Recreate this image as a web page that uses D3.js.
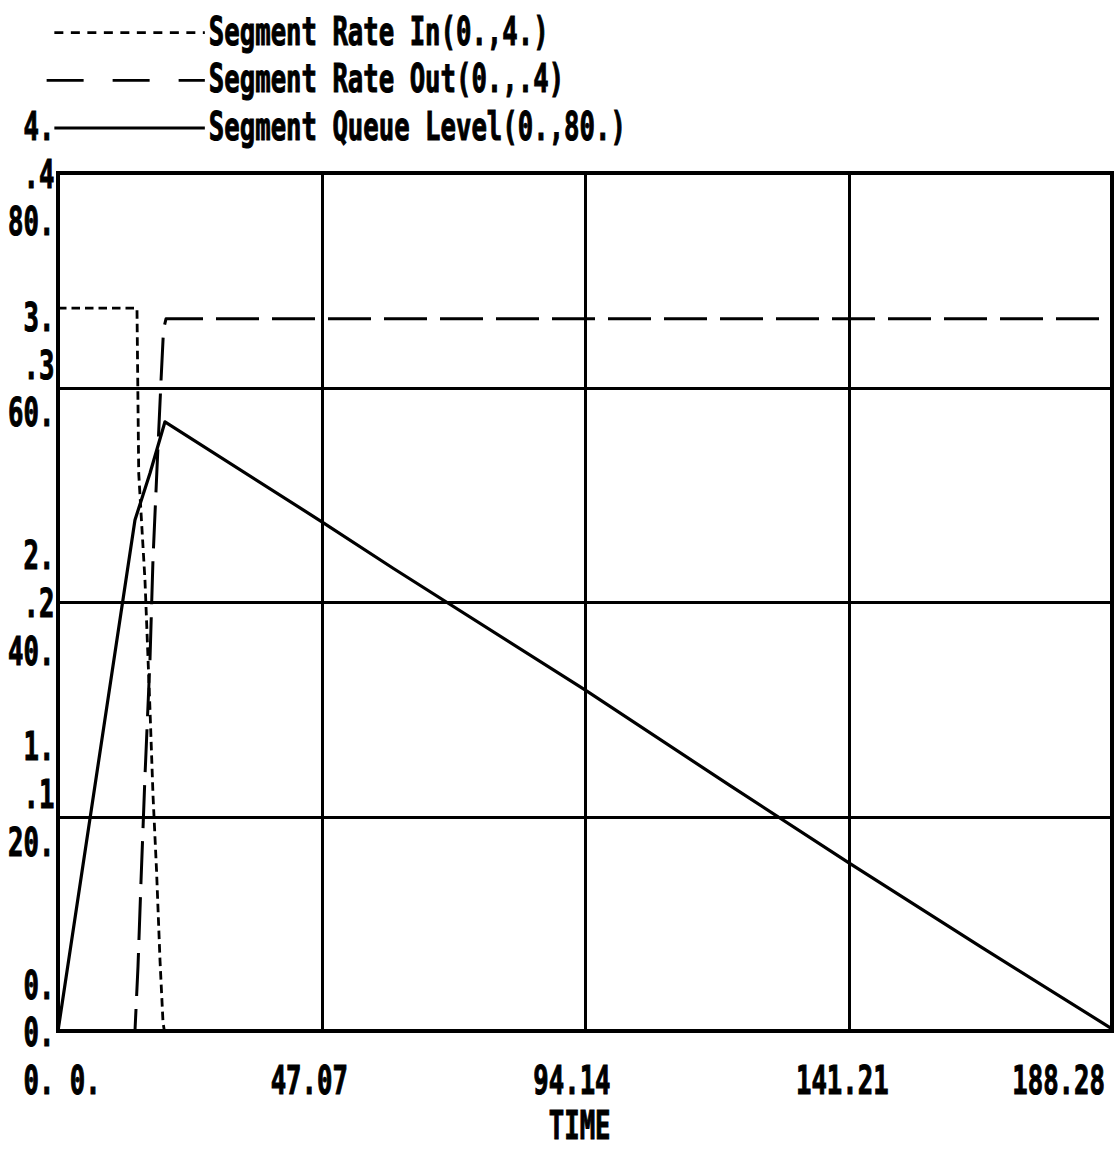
<!DOCTYPE html>
<html>
<head>
<meta charset="utf-8">
<script src="https://cdn.jsdelivr.net/npm/d3@7"></script>
<style>
  html, body { margin: 0; padding: 0; background: #fff; }
  svg { display: block; }
  text { font-family: "DejaVu Sans Mono", monospace; font-weight: bold; fill: #000; stroke: #000; stroke-width: 1.1; }
</style>
</head>
<body>
<svg id="chart" width="1117" height="1150"></svg>
<script>
// ---- Time axis ----
const timeTicks = [0, 47.07, 94.14, 141.21, 188.28];
const timeTickLabels = ["0.", "47.07", "94.14", "141.21", "188.28"];

// ---- Segment Rate In (scale 0 .. 4) ----
const rateInTime  = [0, 14.11, 14.42, 15.54, 16.43, 16.97, 17.6, 18.22, 18.76, 19.0, 188.28];
const rateInValue = [3.37, 3.37, 2.6, 2.1, 1.5, 1.1, 0.75, 0.33, 0.04, 0, 0];
const rateInTicks = [0, 1, 2, 3, 4];
const rateInTickLabels = ["0.", "1.", "2.", "3.", "4."];

// ---- Segment Rate Out (scale 0 .. 0.4) ----
const rateOutTime  = [0, 13.75, 14.29, 14.83, 15.54, 16.43, 16.97, 17.68, 18.4, 18.85, 19.29, 188.28];
const rateOutValue = [0, 0, 0.03, 0.07, 0.119, 0.173, 0.22, 0.262, 0.303, 0.327, 0.332, 0.332];
const rateOutTicks = [0, 0.1, 0.2, 0.3, 0.4];
const rateOutTickLabels = ["0.", ".1", ".2", ".3", ".4"];

// ---- Segment Queue Level (scale 0 .. 80) ----
const queueTime  = [0, 13.75, 16.43, 19.11, 47.07, 60, 94.14, 120, 141.21, 165, 188.28];
const queueValue = [0, 47.65, 52.0, 56.8, 47.5, 43.1, 31.8, 22.9, 15.7, 7.8, 0.2];
const queueTicks = [0, 20, 40, 60, 80];
const queueTickLabels = ["0.", "20.", "40.", "60.", "80."];

const legendLabels = ["Segment Rate In(0.,4.)", "Segment Rate Out(0.,.4)", "Segment Queue Level(0.,80.)"];
const axisTitle = "TIME";

// ---- layout ----
const svg = d3.select("#chart");
const plot = { left: 58, right: 1112, top: 173, bottom: 1031 };

// character-cell text grid used for all labels
const CW = 15.45, RH = 47.7, COL0 = 8, ROW0 = 127;
const FONT_SIZE = 39, GLYPH_ADV = 0.602 * FONT_SIZE, SX = CW / GLYPH_ADV, BASE = 13;
const colX = c => COL0 + c * CW;
const rowY = r => ROW0 + r * RH;

function gridText(str, col, row, maxBaseline) {
  const by = Math.min(rowY(row) + BASE, maxBaseline || Infinity);
  svg.append("text")
    .attr("transform", `translate(${colX(col)},${by}) scale(${SX},1)`)
    .attr("font-size", FONT_SIZE)
    .text(str);
}

const x = d3.scaleLinear().domain([0, 188.28]).range([plot.left, plot.right]);
const yIn = d3.scaleLinear().domain([0, 4]).range([plot.bottom, plot.top]);
const yOut = d3.scaleLinear().domain([0, 0.4]).range([plot.bottom, plot.top]);
const yQ = d3.scaleLinear().domain([0, 80]).range([plot.bottom, plot.top]);

const W = plot.right - plot.left, H = plot.bottom - plot.top;

// ---- grid lines ----
svg.append("g")
  .attr("transform", `translate(0,${plot.bottom})`)
  .call(d3.axisBottom(x).tickValues(timeTicks.slice(1, -1)).tickSize(-H).tickFormat(""))
  .call(g => g.select(".domain").remove())
  .call(g => g.selectAll("line").attr("stroke", "#000").attr("stroke-width", 3).attr("shape-rendering", "crispEdges"));

svg.append("g")
  .attr("transform", `translate(${plot.left},0)`)
  .call(d3.axisLeft(yQ).tickValues(queueTicks.slice(1, -1)).tickSize(-W).tickFormat(""))
  .call(g => g.select(".domain").remove())
  .call(g => g.selectAll("line").attr("stroke", "#000").attr("stroke-width", 3).attr("shape-rendering", "crispEdges"));

// ---- frame ----
svg.append("rect")
  .attr("x", plot.left).attr("y", plot.top)
  .attr("width", W).attr("height", H)
  .attr("fill", "none").attr("stroke", "#000").attr("stroke-width", 3.5)
  .attr("shape-rendering", "crispEdges");

// ---- series ----
const dotted = "8.5,5", dashed = "43,13";

function drawSeries(ts, vs, yScale, dash, width) {
  const pts = ts.map((t, i) => [t, vs[i]]);
  svg.append("path")
    .datum(pts)
    .attr("fill", "none")
    .attr("stroke", "#000")
    .attr("stroke-width", width)
    .attr("stroke-dasharray", dash)
    .attr("stroke-linejoin", "round")
    .attr("d", d3.line().x(d => x(d[0])).y(d => yScale(d[1])));
}
drawSeries(rateInTime, rateInValue, yIn, dotted, 2.8);
drawSeries(rateOutTime, rateOutValue, yOut, dashed, 3);
drawSeries(queueTime, queueValue, yQ, null, 3.2);

// ---- legend (text rows -2, -1, 0) ----
const legendDash = ["9,7.5", "37,29", null];
const legendStart = [colX(3), colX(2.5), colX(3)];
legendLabels.forEach((lab, i) => {
  const r = i - 2;
  svg.append("line")
    .attr("x1", legendStart[i]).attr("x2", colX(13) - 4)
    .attr("y1", rowY(r) + 1).attr("y2", rowY(r) + 1)
    .attr("stroke", "#000").attr("stroke-width", 2.8)
    .attr("stroke-dasharray", legendDash[i]);
  gridText(lab, 13, r);
});

// ---- value labels on the left, snapped to text rows ----
const taken = new Set();
function leftLabels(ticks, labels, yScale, shift) {
  ticks.forEach((v, i) => {
    let r = Math.min(19, Math.round((yScale(v) - ROW0) / RH + shift));
    while (taken.has(r)) r++;
    taken.add(r);
    gridText(labels[i], 3 - labels[i].length, r);
  });
}
leftLabels(queueTicks, queueTickLabels, yQ, 0.8);
leftLabels(rateInTicks, rateInTickLabels, yIn, -1.25);
leftLabels(rateOutTicks, rateOutTickLabels, yOut, -0.2);

// ---- time labels (row 20) ----
const MAXCOL = 71;
timeTicks.forEach((t, i) => {
  const lab = timeTickLabels[i];
  const gc = (x(t) - COL0) / CW;
  let c = i === 0 ? Math.ceil(gc) : Math.floor(gc) - 3;
  c = Math.min(c, MAXCOL - lab.length);
  gridText(lab, c, 20);
});
const midCol = Math.round(((plot.left + plot.right) / 2 - COL0) / CW - axisTitle.length / 2);
gridText(axisTitle, midCol, 21, 1139);
</script>
</body>
</html>
